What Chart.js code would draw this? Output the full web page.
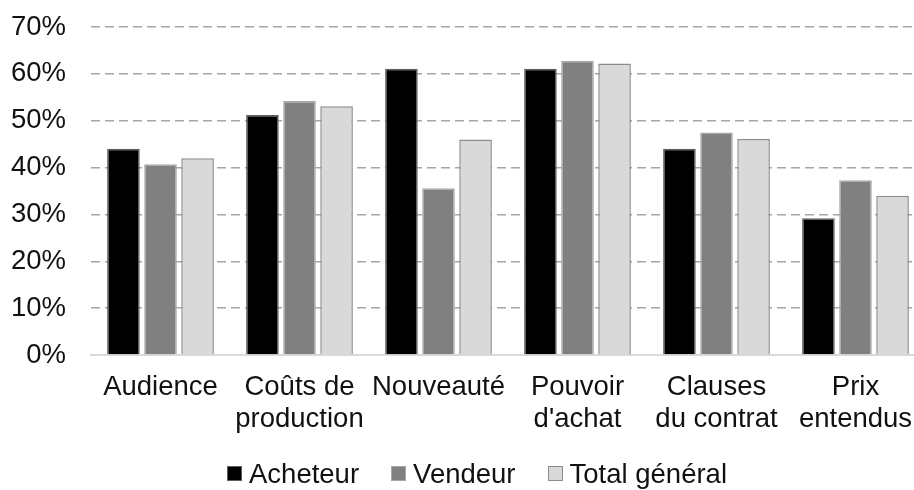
<!DOCTYPE html>
<html>
<head>
<meta charset="utf-8">
<script src="https://cdn.jsdelivr.net/npm/chart.js@4/dist/chart.umd.min.js"></script>
<style>
  html, body { margin: 0; padding: 0; background: #fff; overflow: hidden; }
  #wrap { position: relative; width: 925px; height: 490px; }
  #legende {
    position: absolute; left: 227px; top: 460px;
    display: flex; align-items: center;
    font-family: "Liberation Sans", Arial, sans-serif; font-size: 27.5px;
    line-height: 27px; color: #111; white-space: nowrap;
  }
  #legende .item { display: flex; align-items: center; margin-right: 32px; }
  #legende .boite { width: 13px; height: 13px; border: 1.5px solid; margin-right: 7px; }
</style>
</head>
<body>
<div id="wrap">
  <canvas id="barres" width="925" height="490"></canvas>
  <div id="legende"></div>
</div>
<script>
const categories = [
    'Audience',
    ['Coûts de', 'production'],
    'Nouveauté',
    ['Pouvoir', "d'achat"],
    ['Clauses', 'du contrat'],
    ['Prix', 'entendus']
];
const acheteur = [44.0, 51.2, 61.1, 61.1, 44.0, 29.2];
const vendeur = [40.7, 54.2, 35.6, 62.8, 47.5, 37.3];
const totalGeneral = [42.0, 53.1, 46.0, 62.2, 46.1, 34.0];
const yTicks = [0, 10, 20, 30, 40, 50, 60, 70];

const fontFamily = '"Liberation Sans", Arial, sans-serif';
const textColor = '#111';

const data = {
    labels: categories,
    datasets: [
        {
            label: 'Acheteur',
            data: acheteur,
            backgroundColor: '#000000',
            borderColor: '#5e5e5e',
            borderWidth: 1.5
        },
        {
            label: 'Vendeur',
            data: vendeur,
            backgroundColor: '#808080',
            borderColor: '#a8a8a8',
            borderWidth: 1.5
        },
        {
            label: 'Total général',
            data: totalGeneral,
            backgroundColor: '#d9d9d9',
            borderColor: '#8c8c8c',
            borderWidth: 1.5
        }
    ]
};

const config = {
    type: 'bar',
    data: data,
    options: {
        responsive: false,
        animation: false,
        categoryPercentage: 0.8,
        barPercentage: 0.88,
        layout: {
            padding: { left: 0, top: 0, right: 0, bottom: 46 }
        },
        plugins: {
            tooltip: { enabled: false },
            legend: { display: false }
        },
        scales: {
            x: {
                grid: { display: false },
                border: { display: true, color: '#d9d9d9', width: 2 },
                ticks: {
                    color: textColor,
                    padding: 8,
                    maxRotation: 0,
                    autoSkip: false,
                    font: { family: fontFamily, size: 27.5, lineHeight: 1.18 }
                }
            },
            y: {
                min: 0,
                max: 70,
                afterBuildTicks: function(axis) {
                    axis.ticks = yTicks.map(v => ({ value: v }));
                },
                afterFit: function(axis) {
                    axis.width = 91;
                    axis.paddingTop = 27;
                },
                border: { display: false, dash: [9, 5] },
                grid: {
                    drawTicks: false,
                    lineWidth: 1.6,
                    color: ctx => ctx.tick.value === 0 ? 'rgba(0,0,0,0)' : '#a6a6a6'
                },
                ticks: {
                    color: textColor,
                    padding: 25,
                    font: { family: fontFamily, size: 27.5 },
                    callback: v => v + '%'
                }
            }
        }
    }
};

const ctx = document.getElementById('barres').getContext('2d');
const barChart = new Chart(ctx, config);

// legend below the plot, built from the dataset colours
const legende = document.getElementById('legende');
data.datasets.forEach(ds => {
    const item = document.createElement('div');
    item.className = 'item';
    const boite = document.createElement('span');
    boite.className = 'boite';
    boite.style.background = ds.backgroundColor;
    boite.style.borderColor = ds.borderColor;
    const texte = document.createElement('span');
    texte.textContent = ds.label;
    item.appendChild(boite);
    item.appendChild(texte);
    legende.appendChild(item);
});
</script>
</body>
</html>
